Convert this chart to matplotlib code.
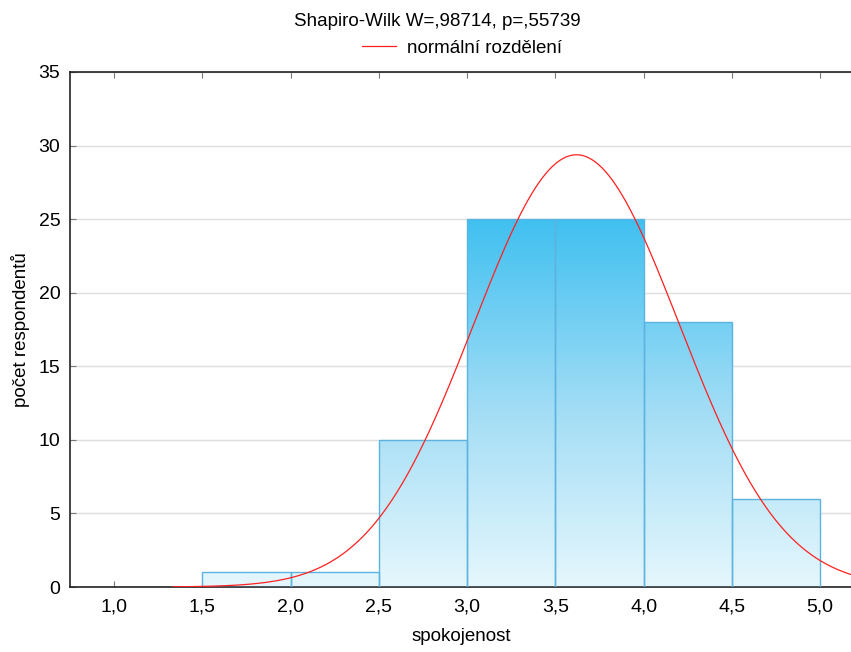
import numpy as np
import matplotlib.pyplot as plt
from matplotlib.colors import LinearSegmentedColormap
from matplotlib.ticker import FuncFormatter

plt.rcParams['font.family'] = ['Liberation Sans', 'DejaVu Sans']

# histogram data
bin_left = [1.5, 2.0, 2.5, 3.0, 3.5, 4.0, 4.5]
counts = [1, 1, 10, 25, 25, 18, 6]
bin_width = 0.5

# fitted normal curve parameters
n_total = 86
mean = 3.62
sd = 0.584

fig = plt.figure(figsize=(8.51, 6.52), dpi=100)
ax = fig.add_axes([70 / 851, 65 / 652, 1 - 70 / 851 + 0.002, (587 - 72) / 652])

ax.set_xlim(0.75, 5.185)
ax.set_ylim(0, 35)

# grid
ax.set_yticks(np.arange(0, 36, 5))
ax.yaxis.grid(True, color='#dedede', lw=1)
ax.set_axisbelow(True)

# gradient bars
cmap = LinearSegmentedColormap.from_list('blu', ['#e6f7fd', '#9fdcf5', '#40c0f0'])
grad = np.linspace(0, 1, 256).reshape(-1, 1)
bars = ax.bar(bin_left, counts, width=bin_width, align='edge',
              facecolor='none', edgecolor='#5cb3e0', lw=1, zorder=3)
for b in bars:
    im = ax.imshow(grad, cmap=cmap, origin='lower', aspect='auto',
                   extent=[0.75, 5.185, 0, 25], zorder=2, interpolation='bilinear')
    im.set_clip_path(b)

# normal curve
xs = np.linspace(1.33, 5.185, 400)
ys = n_total * bin_width / (sd * np.sqrt(2 * np.pi)) * np.exp(-(xs - mean) ** 2 / (2 * sd ** 2))
line, = ax.plot(xs, ys, color='#ff2020', lw=0.9, zorder=4, label='normální rozdělení')

# axes style
ax.spines['right'].set_visible(False)
for s in ['left', 'bottom', 'top']:
    ax.spines[s].set_color('#222222')
    ax.spines[s].set_linewidth(1.2)
ax.set_xticks(np.arange(1.0, 5.01, 0.5))
ax.xaxis.set_major_formatter(FuncFormatter(lambda v, p: f'{v:.1f}'.replace('.', ',')))
ax.tick_params(axis='x', direction='in', top=True, length=4, color='#777777',
               labelsize=14, pad=8)
ax.tick_params(axis='y', direction='in', length=4, color='#777777', labelsize=14, pad=7)

ax.set_xlabel('spokojenost', fontsize=13.5, labelpad=9)
ax.set_ylabel('počet respondentů', fontsize=13.5, labelpad=6)

fig.text(437 / 851, 1 - 22 / 652, 'Shapiro-Wilk W=,98714, p=,55739', ha='center', va='center', fontsize=13.5)
fig.legend(handles=[line], loc='center', bbox_to_anchor=(462 / 851, 1 - 48 / 652),
           frameon=False, fontsize=13.5, handlelength=1.8, handletextpad=0.6)

fig.savefig('out.png', dpi=100)
